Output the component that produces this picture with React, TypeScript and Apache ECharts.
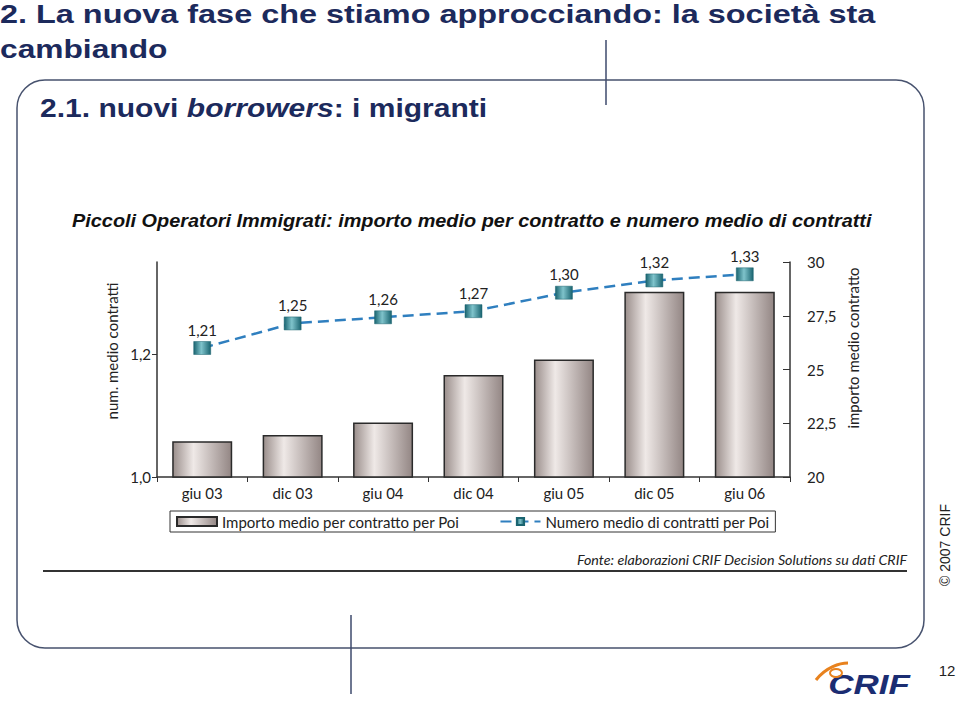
import React, { useEffect, useRef } from "react";
import * as echarts from "echarts";

const categories = ["giu 03", "dic 03", "giu 04", "dic 04", "giu 05", "dic 05", "giu 06"];
const importoMedio = [21.66, 21.95, 22.53, 24.74, 25.47, 28.62, 28.62];
const numeroMedio = [1.21, 1.25, 1.26, 1.27, 1.3, 1.32, 1.33];
const leftTickValues = [1.0, 1.2];
const seriesNames = ["Importo medio per contratto per Poi", "Numero medio di contratti per Poi"];

const titleLine1 = "2. La nuova fase che stiamo approcciando: la società sta";
const titleLine2 = "cambiando";
const chartTitle = "Piccoli Operatori Immigrati: importo medio per contratto e numero medio di contratti";
const sourceText = "Fonte: elaborazioni CRIF Decision Solutions su dati CRIF";

const NAVY = "#1c2a5c";
const CHART_FONT = "Lato, 'Open Sans', sans-serif";
const NARROW = "'Liberation Sans Narrow', 'Liberation Sans', Arial, sans-serif";

const comma = (v: number, d: number) => v.toFixed(d).replace(".", ",");

export default function App() {
  const ref = useRef<HTMLDivElement>(null);
  useEffect(() => {
    if (!ref.current) return;
    const chart = echarts.init(ref.current, null, { renderer: "svg" });
    const barGrad = new echarts.graphic.LinearGradient(0, 0, 1, 0, [
      { offset: 0, color: "#9a8e8b" },
      { offset: 0.35, color: "#efe9e7" },
      { offset: 1, color: "#938684" },
    ]);
    const markGrad = new echarts.graphic.LinearGradient(0, 0, 1, 0, [
      { offset: 0, color: "#1a6470" },
      { offset: 0.45, color: "#7fc3cb" },
      { offset: 1, color: "#1a6470" },
    ]);
    chart.setOption({
      animation: false,
      backgroundColor: "#ffffff",
      grid: { left: 157, right: 169, top: 262, bottom: 225 },
      legend: {
        left: 170,
        top: 511,
        orient: "horizontal",
        padding: [3, 6, 3, 6],
        borderColor: "#333",
        borderWidth: 1,
        borderRadius: 0,
        itemWidth: 40,
        itemHeight: 9,
        itemGap: 40,
        textStyle: { fontFamily: CHART_FONT, fontSize: 15, color: "#222" },
        data: [
          { name: seriesNames[0], icon: "rect" },
          { name: seriesNames[1] },
        ],
      },
      xAxis: {
        type: "category",
        data: categories,
        boundaryGap: true,
        axisLine: { lineStyle: { color: "#333", width: 1.5 } },
        axisTick: { show: true, interval: 0, length: 5, lineStyle: { color: "#333" } },
        axisLabel: { fontFamily: CHART_FONT, fontSize: 15, color: "#222", margin: 8 },
      },
      yAxis: [
        {
          type: "value",
          position: "left",
          min: 1.0,
          max: 1.35,
          interval: 0.2,
          axisLine: { show: true, lineStyle: { color: "#333", width: 1.5 } },
          axisTick: { show: true, length: 5, customValues: leftTickValues, lineStyle: { color: "#333" } },
          axisLabel: {
            fontFamily: CHART_FONT,
            fontSize: 15,
            color: "#222",
            margin: 6,
            customValues: leftTickValues,
            formatter: (v: number) => comma(v, 1),
          },
          splitLine: { show: false },
        },
        {
          type: "value",
          position: "right",
          min: 20,
          max: 30,
          interval: 2.5,
          axisLine: { show: true, lineStyle: { color: "#333", width: 1.5 } },
          axisTick: { show: true, inside: true, length: 7, lineStyle: { color: "#333" } },
          axisLabel: {
            fontFamily: CHART_FONT,
            fontSize: 15,
            color: "#222",
            margin: 17,
            formatter: (v: number) => String(v).replace(".", ","),
          },
          splitLine: { show: false },
        },
      ],
      series: [
        {
          name: seriesNames[0],
          type: "bar",
          yAxisIndex: 1,
          data: importoMedio,
          barWidth: 60,
          itemStyle: { color: barGrad, borderColor: "#2a2a2a", borderWidth: 1.5 },
        },
        {
          name: seriesNames[1],
          type: "line",
          yAxisIndex: 0,
          data: numeroMedio,
          symbol: "rect",
          symbolSize: [17, 13],
          lineStyle: { color: "#2f7fbf", width: 2.5, type: [11, 6] },
          itemStyle: { color: markGrad, borderColor: "#1a6470", borderWidth: 0.5 },
          label: {
            show: true,
            position: "top",
            distance: 4,
            fontFamily: CHART_FONT,
            fontSize: 15,
            color: "#222",
            formatter: (p: any) => comma(p.value, 2),
          },
          z: 5,
        },
      ],
      graphic: [
        {
          type: "text",
          x: 0,
          y: 1,
          scaleX: 1.247,
          style: { text: titleLine1, font: `bold 26px ${NARROW}`, fill: NAVY },
        },
        {
          type: "text",
          x: 0,
          y: 36,
          scaleX: 1.22,
          style: { text: titleLine2, font: `bold 26px ${NARROW}`, fill: NAVY },
        },
        {
          type: "line",
          shape: { x1: 606, y1: 40, x2: 606, y2: 105 },
          style: { stroke: "#3e4a6c", lineWidth: 1.5 },
        },
        {
          type: "rect",
          shape: { x: 17, y: 80, width: 907, height: 568, r: 28 },
          style: { fill: "none", stroke: "#47526e", lineWidth: 1.5 },
        },
        {
          type: "line",
          shape: { x1: 351, y1: 615, x2: 351, y2: 694 },
          style: { stroke: "#3e4a6c", lineWidth: 1.5 },
        },
        {
          type: "text",
          x: 40,
          y: 95,
          scaleX: 1.155,
          style: {
            text: "{n|2.1. nuovi }{i|borrowers}{n|: i migranti}",
            rich: {
              n: { font: `bold 26px ${NARROW}`, fill: NAVY },
              i: { font: `italic bold 26px ${NARROW}`, fill: NAVY },
            },
          },
        },
        {
          type: "text",
          x: 72,
          y: 212,
          scaleX: 1.105,
          style: { text: chartTitle, font: `italic bold 18px ${NARROW}`, fill: "#111" },
        },
        {
          type: "text",
          x: 112,
          y: 351,
          rotation: Math.PI / 2,
          style: {
            text: "num. medio contratti",
            font: `15px ${CHART_FONT}`,
            fill: "#222",
            align: "center",
            verticalAlign: "middle",
          },
        },
        {
          type: "text",
          x: 853,
          y: 348,
          rotation: Math.PI / 2,
          style: {
            text: "importo medio contratto",
            font: `15px ${CHART_FONT}`,
            fill: "#222",
            align: "center",
            verticalAlign: "middle",
          },
        },
        {
          type: "line",
          shape: { x1: 43, y1: 571, x2: 907, y2: 571 },
          style: { stroke: "#333", lineWidth: 2 },
        },
        {
          type: "text",
          x: 907,
          y: 560,
          scaleX: 1.02,
          style: {
            text: sourceText,
            font: `italic 14px ${CHART_FONT}`,
            fill: "#222",
            align: "right",
            verticalAlign: "middle",
          },
        },
        {
          type: "text",
          x: 945,
          y: 545,
          rotation: Math.PI / 2,
          style: {
            text: "© 2007 CRIF",
            font: `14px 'Liberation Sans', Arial, sans-serif`,
            fill: "#222",
            align: "center",
            verticalAlign: "middle",
          },
        },
        {
          type: "text",
          x: 947,
          y: 670,
          style: {
            text: "12",
            font: `15px 'Liberation Sans', Arial, sans-serif`,
            fill: "#222",
            align: "center",
            verticalAlign: "middle",
          },
        },
        {
          type: "text",
          x: 869,
          y: 684,
          scaleX: 1.25,
          style: {
            text: "CRIF",
            font: `italic bold 28px 'Liberation Sans', Arial, sans-serif`,
            fill: "#1b2d72",
            align: "center",
            verticalAlign: "middle",
          },
        },
        {
          type: "bezierCurve",
          shape: { x1: 816, y1: 680, x2: 848, y2: 663, cpx1: 826, cpy1: 667, cpx2: 840, cpy2: 663 },
          style: { stroke: "#e8821e", lineWidth: 3, fill: "none" },
        },
        {
          type: "ellipse",
          shape: { cx: 836, cy: 673, rx: 6, ry: 4 },
          style: { stroke: "#e8821e", lineWidth: 2, fill: "none" },
        },
      ],
    });
    return () => chart.dispose();
  }, []);
  return (
    <div
      ref={ref}
      style={{ position: "fixed", left: 0, top: 0, width: 959, height: 702, background: "#fff" }}
    />
  );
}
